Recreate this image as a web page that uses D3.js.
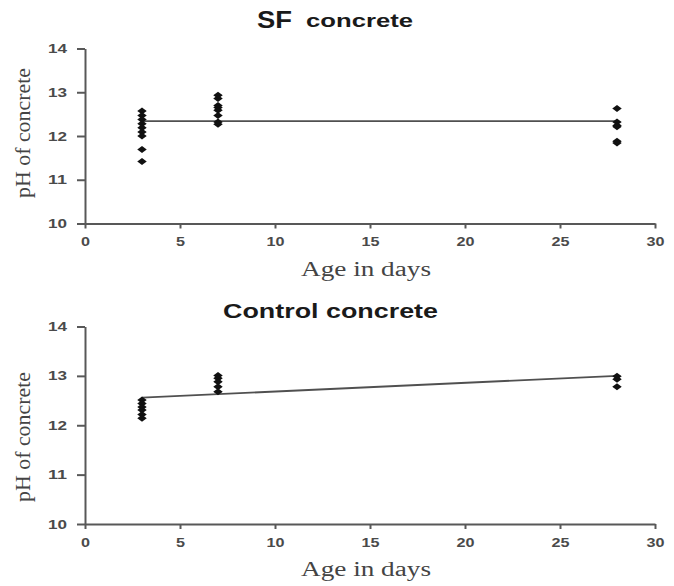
<!DOCTYPE html>
<html>
<head>
<meta charset="utf-8">
<title>pH of concrete</title>
<style>
  body { margin: 0; background: #fff; }
  svg { display: block; }
  .tick text { font-family: Arial, "Liberation Sans", sans-serif; font-size: 12.5px; font-weight: bold; fill: #4a4a4a; }
  .domain, .tick line { stroke: #585858; stroke-width: 2; }
  .ttl { font-family: Arial, "Liberation Sans", sans-serif; font-weight: bold; fill: #1a1a1a; }
  .lbl { font-family: "Liberation Serif", "Times New Roman", serif; font-size: 20px; fill: #444; }
</style>
</head>
<body>
<div id="chart"></div>
<script src="https://d3js.org/d3.v7.min.js"></script>
<script>
// x ticks and y ticks
let xTicks = [0, 5, 10, 15, 20, 25, 30];
let yTicks = [10, 11, 12, 13, 14];

// SF concrete readings (day, pH)
let sfDays = [3, 3, 3, 3, 3, 3, 3, 3, 3, 7, 7, 7, 7, 7, 7, 7, 7, 28, 28, 28, 28, 28, 28];
let sfPH = [12.57, 12.47, 12.38, 12.28, 12.19, 12.09, 12.0, 11.69, 11.42,
            12.93, 12.86, 12.7, 12.65, 12.59, 12.47, 12.32, 12.27,
            12.63, 12.32, 12.24, 12.21, 11.88, 11.84];
let sfTrend = [[3, 12.34], [28, 12.34]];

// Control concrete readings
let ctDays = [3, 3, 3, 3, 3, 3, 7, 7, 7, 7, 7, 28, 28, 28];
let ctPH = [12.51, 12.44, 12.37, 12.31, 12.22, 12.14,
            13.01, 12.95, 12.88, 12.78, 12.68,
            12.99, 12.93, 12.78];
let ctTrend = [[3, 12.56], [28, 13.0]];

let w = 674, h = 586;
let svg = d3.select("#chart").append("svg").attr("width", w).attr("height", h);

// wide diamond marker
let wideDiamond = {
  draw: function(ctx, size) {
    let a = Math.sqrt(size) / 2;
    ctx.moveTo(-a * 1.35, 0);
    ctx.lineTo(0, -a);
    ctx.lineTo(a * 1.35, 0);
    ctx.lineTo(0, a);
    ctx.closePath();
  }
};

// the source picture is stretched sideways, so stretch the labels too
function stretch(sel, perChar) {
  sel.attr("textLength", function() { return this.textContent.length * perChar; })
     .attr("lengthAdjust", "spacingAndGlyphs");
}

function panel(top, bottom, days, ph, trend, labelMid) {
  let x = d3.scaleLinear().domain([0, 30]).range([85, 655]);
  let y = d3.scaleLinear().domain([10, 14]).range([bottom, top]);
  let g = svg.append("g");

  let xa = g.append("g")
    .attr("transform", "translate(0," + bottom + ")")
    .call(d3.axisBottom(x).tickValues(xTicks).tickFormat(d3.format("d"))
      .tickSize(5).tickSizeOuter(0).tickPadding(9));
  xa.selectAll("text").call(stretch, 9);

  let ya = g.append("g")
    .attr("transform", "translate(" + x(0) + ",0)")
    .call(d3.axisLeft(y).tickValues(yTicks).tickFormat(d3.format("d"))
      .tickSize(8).tickSizeOuter(0).tickPadding(10));
  ya.selectAll("text").call(stretch, 9.5);

  g.append("path")
    .datum(trend)
    .attr("fill", "none")
    .attr("stroke", "#505050")
    .attr("stroke-width", 1.8)
    .attr("d", d3.line().x(function(d) { return x(d[0]); }).y(function(d) { return y(d[1]); }));

  g.selectAll("path.pt")
    .data(d3.range(days.length))
    .enter()
    .append("path")
    .attr("class", "pt")
    .attr("transform", function(i) { return "translate(" + x(days[i]) + "," + y(ph[i]) + ")"; })
    .attr("d", d3.symbol().type(wideDiamond).size(49))
    .attr("fill", "#111");

  g.append("text").attr("class", "lbl")
    .attr("x", 366).attr("y", bottom + 52)
    .attr("text-anchor", "middle")
    .attr("textLength", 130).attr("lengthAdjust", "spacingAndGlyphs")
    .text("Age in days");
  g.append("text").attr("class", "lbl")
    .attr("transform", "translate(29.5," + labelMid + ") rotate(-90)")
    .attr("text-anchor", "middle")
    .attr("font-size", "22px")
    .attr("textLength", 130).attr("lengthAdjust", "spacingAndGlyphs")
    .text("pH of concrete");
  return g;
}

let g1 = panel(48.5, 223.5, sfDays, sfPH, sfTrend, 133);
g1.append("text").attr("class", "ttl")
  .attr("x", 257).attr("y", 28)
  .attr("font-size", "23px")
  .attr("textLength", 35).attr("lengthAdjust", "spacingAndGlyphs")
  .text("SF");
g1.append("text").attr("class", "ttl")
  .attr("x", 306).attr("y", 26.5)
  .attr("font-size", "18px")
  .attr("textLength", 107).attr("lengthAdjust", "spacingAndGlyphs")
  .text("concrete");

let g2 = panel(326.5, 524, ctDays, ctPH, ctTrend, 437);
g2.append("text").attr("class", "ttl")
  .attr("x", 223).attr("y", 318)
  .attr("font-size", "21px")
  .attr("textLength", 215).attr("lengthAdjust", "spacingAndGlyphs")
  .text("Control concrete");
</script>
</body>
</html>
